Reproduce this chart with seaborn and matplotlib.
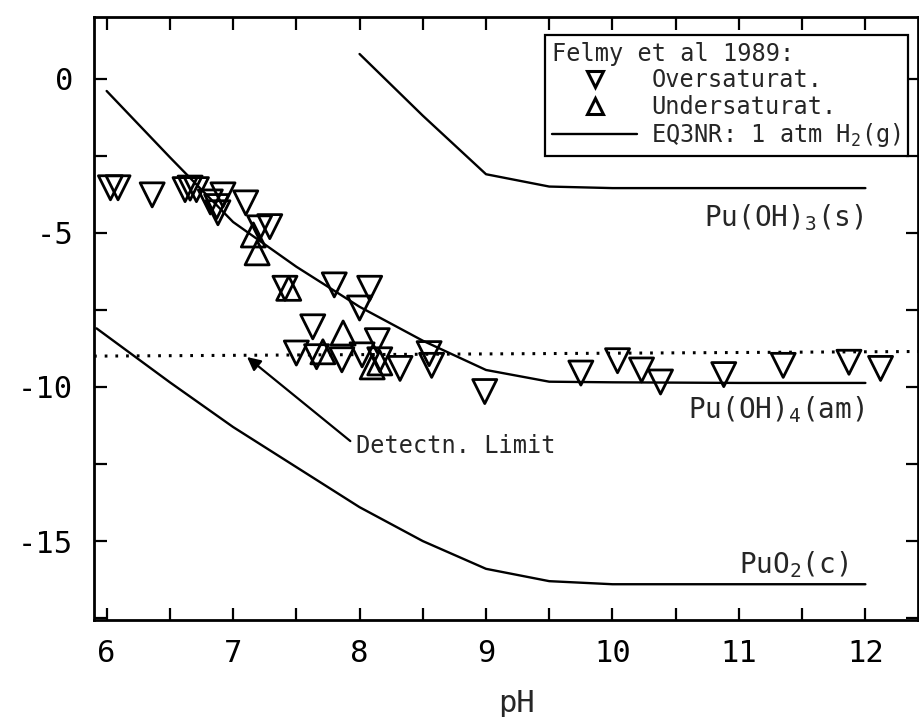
import matplotlib
matplotlib.use("Agg")
import matplotlib.pyplot as plt
import seaborn as sns
from matplotlib.lines import Line2D

# ---------------- data ----------------
# EQ3NR curves (log concentration vs pH)
ph_puoh3 = [8.0, 8.5, 9.0, 9.5, 10.0, 10.5, 11.0, 11.5, 12.0]
val_puoh3 = [0.8, -1.2, -3.1, -3.5, -3.55, -3.55, -3.55, -3.55, -3.55]

ph_puoh4 = [6.0, 6.5, 7.0, 7.5, 8.0, 8.5, 9.0, 9.5, 10.0, 10.5, 11.0, 11.5, 12.0]
val_puoh4 = [-0.4, -2.55, -4.65, -6.1, -7.4, -8.5, -9.45, -9.83, -9.85, -9.86, -9.87, -9.87, -9.87]

ph_puo2 = [5.92, 6.5, 7.0, 7.5, 8.0, 8.5, 9.0, 9.5, 10.0, 10.5, 11.0, 11.5, 12.0]
val_puo2 = [-8.1, -9.85, -11.3, -12.6, -13.9, -15.0, -15.9, -16.3, -16.4, -16.4, -16.4, -16.4, -16.4]

# detection limit (dotted)
ph_detect = [5.9, 12.42]
val_detect = [-9.0, -8.85]

# Felmy et al 1989 data
ph_over = [6.03, 6.09, 6.36, 6.62, 6.66, 6.71, 6.82, 6.87, 6.88, 6.92, 7.10, 7.21, 7.29,
           7.41, 7.80, 8.08, 8.00, 7.63, 8.14, 7.50, 7.66, 7.86, 8.02, 8.16, 8.32, 8.55,
           8.57, 8.99, 9.75, 10.04, 10.23, 10.38, 10.88, 11.35, 11.87, 12.12]
val_over = [-3.54, -3.54, -3.77, -3.60, -3.55, -3.60, -4.00, -4.15, -4.35, -3.77, -4.03, -4.84, -4.80,
            -6.80, -6.69, -6.80, -7.44, -8.05, -8.50, -8.90, -9.02, -9.12, -8.96, -9.12, -9.40, -8.92,
            -9.30, -10.15, -9.55, -9.15, -9.45, -9.84, -9.60, -9.30, -9.20, -9.40]

ph_under = [7.16, 7.19, 7.44, 7.87, 7.71, 8.10, 8.16]
val_under = [-5.07, -5.65, -6.80, -8.25, -8.86, -9.35, -9.22]

x_ticks = [6, 6.5, 7, 7.5, 8, 8.5, 9, 9.5, 10, 10.5, 11, 11.5, 12]
x_ticklabels = ["6", "", "7", "", "8", "", "9", "", "10", "", "11", "", "12"]
y_ticks = [0, -2.5, -5, -7.5, -10, -12.5, -15, -17.5]
y_ticklabels = ["0", "", "-5", "", "-10", "", "-15", ""]

# ---------------- style ----------------
sns.set_style("ticks")
MONO = ["DejaVu Sans Mono", "DejaVu Sans"]
plt.rcParams["font.family"] = MONO
plt.rcParams["mathtext.fontset"] = "custom"
plt.rcParams["mathtext.rm"] = "DejaVu Sans Mono"
plt.rcParams["mathtext.it"] = "DejaVu Sans Mono"
plt.rcParams["mathtext.bf"] = "DejaVu Sans Mono"

W, H = 920, 717
fig = plt.figure(figsize=(W / 100, H / 100), dpi=100)
ax = fig.add_axes([94 / W, 1 - 620 / H, (918.5 - 94) / W, (620 - 17) / H])

LW = 1.7
sns.lineplot(x=ph_puoh3, y=val_puoh3, ax=ax, color="black", lw=LW, sort=False, estimator=None)
sns.lineplot(x=ph_puoh4, y=val_puoh4, ax=ax, color="black", lw=LW, sort=False, estimator=None)
sns.lineplot(x=ph_puo2, y=val_puo2, ax=ax, color="black", lw=LW, sort=False, estimator=None)
sns.lineplot(x=ph_detect, y=val_detect, ax=ax, color="black", lw=2.2, sort=False,
             estimator=None, linestyle=(0, (0.9, 2.6)))

sns.scatterplot(x=ph_over, y=val_over, ax=ax, marker="v", s=300, linewidth=2.0)
c1 = ax.collections[-1]
c1.set_facecolor("none"); c1.set_edgecolor("black")
sns.scatterplot(x=ph_under, y=val_under, ax=ax, marker="^", s=300, linewidth=2.0)
c2 = ax.collections[-1]
c2.set_facecolor("none"); c2.set_edgecolor("black")

ax.set_xlim(5.9, 12.42)
ax.set_ylim(-17.56, 2.0)
ax.set_xticks(x_ticks)
ax.set_xticklabels(x_ticklabels)
ax.set_yticks(y_ticks)
ax.set_yticklabels(y_ticklabels)
ax.tick_params(direction="in", length=9, width=1.6, top=True, right=True,
               labelsize=22, colors="black")
ax.tick_params(axis="x", pad=14)
ax.tick_params(axis="y", pad=15)
for s in ax.spines.values():
    s.set_linewidth(2.0)
    s.set_color("black")
ax.set_xlabel("pH", fontsize=22)
ax.xaxis.set_label_coords(0.513, -0.115)
ax.set_ylabel("")

# curve labels
ax.text(10.72, -4.5, "Pu(OH)$_3$(s)", fontsize=20, ha="left", va="center")
ax.text(10.6, -10.75, "Pu(OH)$_4$(am)", fontsize=20, ha="left", va="center")
ax.text(11.0, -15.75, "PuO$_2$(c)", fontsize=20, ha="left", va="center")

# detection limit annotation
ax.annotate("Detectn. Limit", xy=(7.11, -9.03), xytext=(7.97, -11.9),
            fontsize=17, ha="left", va="center",
            arrowprops=dict(arrowstyle="-|>", color="black", lw=1.6,
                            mutation_scale=20, shrinkA=2, shrinkB=0, relpos=(0, 0.5)))

# legend
handles = [
    Line2D([], [], marker="v", ls="none", mfc="none", mec="black", mew=2.2, ms=12),
    Line2D([], [], marker="^", ls="none", mfc="none", mec="black", mew=2.2, ms=12),
    Line2D([], [], color="black", lw=LW),
]
labels = ["Oversaturat.", "Undersaturat.", "EQ3NR: 1 atm H$_2$(g)"]
leg = ax.legend(handles, labels, title="Felmy et al 1989:", loc="upper right",
                bbox_to_anchor=(908 / W, 1 - 35 / H), bbox_transform=fig.transFigure,
                borderaxespad=0, fancybox=False, edgecolor="black", framealpha=1,
                fontsize=17, title_fontsize=17, handlelength=3.6, handletextpad=0.6,
                labelspacing=0.1, borderpad=0.3)
leg.get_frame().set_linewidth(1.6)
leg._legend_box.align = "left"

fig.savefig("out.png", dpi=100)
